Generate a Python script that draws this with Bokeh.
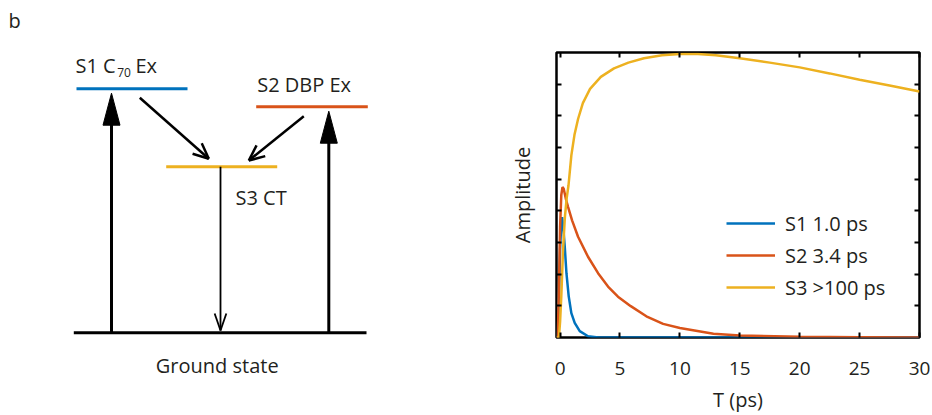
import numpy as np
from bokeh.plotting import figure
from bokeh.layouts import row
from bokeh.models import Label, LinearAxis, FixedTicker, Legend, LegendItem
from bokeh.embed import file_html
from bokeh.resources import INLINE

# ---------------- data: kinetic amplitudes (right panel) ----------------
t_s1 = [-0.3, -0.2, -0.1, 0.0, 0.1, 0.17, 0.28, 0.39, 0.53, 0.72, 0.94, 1.22, 1.64, 2.33, 3.2, 30]
a_s1 = [0, 0, 0.12, 0.28, 0.36, 0.38, 0.34, 0.286, 0.203, 0.13, 0.077, 0.046, 0.02, 0.004, 0, 0]

t_s2 = [-0.3, -0.2, -0.1, 0.0, 0.1, 0.2, 0.3, 0.5, 0.67, 1.0, 1.5, 2.33, 3.17, 4.0, 4.83,
        5.9, 7.2, 8.6, 10, 12.8, 15, 20, 25, 30]
a_s2 = [0, 0, 0.15, 0.35, 0.45, 0.475, 0.47, 0.435, 0.412, 0.37, 0.318, 0.255, 0.203, 0.161, 0.129,
        0.099, 0.067, 0.043, 0.03, 0.012, 0.006, 0.002, 0.001, 0]

t_s3 = [-0.3, -0.1, 0.0, 0.1, 0.25, 0.4, 0.55, 0.7, 0.94, 1.2, 1.5, 1.9, 2.5, 3.4, 4.5, 5.7,
        7, 8.5, 10, 11.5, 13, 15, 17.5, 20, 22.5, 25, 27.5, 30]
a_s3 = [0, 0, 0.05, 0.13, 0.28, 0.38, 0.44, 0.48, 0.575, 0.64, 0.69, 0.74, 0.785, 0.823, 0.85, 0.868,
        0.882, 0.891, 0.895, 0.895, 0.891, 0.882, 0.868, 0.853, 0.834, 0.814, 0.796, 0.777]

series_labels = ["S1 1.0 ps", "S2 3.4 ps", "S3 >100 ps"]
x_ticks = [0, 5, 10, 15, 20, 25, 30]
y_ticks = [0.1, 0.2, 0.3, 0.4, 0.5, 0.6, 0.7, 0.8]

# ---------------- data: energy diagram (left panel) ----------------
level_names = ["S1", "S2", "S3", "G"]
level_energy = [2.44, 2.26, 1.66, 0.0]
level_x0 = [0.68, 2.477, 1.577, 0.653]
level_x1 = [1.79, 3.593, 2.687, 3.58]

excite_x = [1.03, 3.203]
excite_tip = [2.396, 2.216]

transfer_start = [(1.313, 2.35), (2.953, 2.166)]
transfer_end = [(2.003, 1.74), (2.403, 1.723)]

recomb_x = 2.12
recomb_tip = 0.023

BLUE = "#0072BD"
RED = "#D95319"
YEL = "#EDB120"
TXT = "#231F20"
FONT = "Open Sans"

# ================= left panel =================
p1 = figure(width=500, height=415, x_range=(-0.08, 4.92), y_range=(-0.827, 3.323),
            output_backend="svg", toolbar_location=None, min_border=0)
try:
    p1.frame_align = False
except AttributeError:
    pass
p1.axis.visible = False
p1.grid.visible = False
p1.outline_line_color = None

level_colors = [BLUE, RED, YEL, "black"]
p1.segment(x0=level_x0, x1=level_x1, y0=level_energy, y1=level_energy,
           line_color=level_colors, line_width=3)

# excitation arrows (filled, elongated heads)
head_len, head_hw = 0.32, 0.085
for x, tip in zip(excite_x, excite_tip):
    p1.line([x, x], [0, tip - 0.2], line_color="black", line_width=3)
    p1.patch([x - head_hw, x, x + head_hw], [tip - head_len, tip, tip - head_len],
             fill_color="black", line_color="black", line_width=1)

def open_head(xs, ys, xe, ye, length, half_angle):
    d = np.array([xs - xe, ys - ye])
    d = d / np.hypot(*d)
    xs_out, ys_out = [], []
    for s in (1, -1):
        a = s * np.radians(half_angle)
        r = np.array([[np.cos(a), -np.sin(a)], [np.sin(a), np.cos(a)]]) @ d
        xs_out.append([xe, xe + length * r[0]])
        ys_out.append([ye, ye + length * r[1]])
    return xs_out, ys_out

for (xs, ys), (xe, ye) in zip(transfer_start, transfer_end):
    p1.line([xs, xe], [ys, ye], line_color="black", line_width=2.5)
    hx, hy = open_head(xs, ys, xe, ye, 0.17, 24)
    p1.multi_line(hx, hy, line_color="black", line_width=2.5)

p1.line([recomb_x, recomb_x], [level_energy[2], recomb_tip], line_color="black", line_width=1.8)
hx, hy = open_head(recomb_x, level_energy[2], recomb_x, recomb_tip, 0.18, 19)
p1.multi_line(hx, hy, line_color="black", line_width=1.8)

SHIFT = 0.08
def lab(x, y, text, size="20px", align="left"):
    p1.add_layout(Label(x=x, y=y + SHIFT, text=text, text_font=FONT, text_font_size=size,
                        text_color=TXT, text_align=align, text_baseline="alphabetic"))

lab(0.0, 3.043, "b")
lab(0.67, 2.59, "S1 C")
lab(1.087, 2.523, "70", size="12px")
lab(1.27, 2.59, "Ex")
lab(2.487, 2.408, "S2 DBP Ex")
lab(2.27, 1.273, "S3 CT")
lab(2.087, -0.407, "Ground state", align="center")

# ================= right panel =================
p2 = figure(width=432, height=415, x_range=(-0.3, 30), y_range=(0, 0.9),
            output_backend="svg", toolbar_location=None,
            min_border_left=56, min_border_right=13, min_border_top=52, min_border_bottom=77)
try:
    p2.frame_align = False
except AttributeError:
    pass
p2.grid.visible = False
p2.outline_line_color = "black"
p2.outline_line_width = 2.5

r1 = p2.line(t_s1, a_s1, line_color=BLUE, line_width=2.5)
r2 = p2.line(t_s2, a_s2, line_color=RED, line_width=2.5)
r3 = p2.line(t_s3, a_s3, line_color=YEL, line_width=2.5)

def style_axis(ax):
    ax.major_tick_in = 5
    ax.major_tick_out = 0
    ax.major_tick_line_width = 2
    ax.minor_tick_in = 5
    ax.minor_tick_out = 0
    ax.minor_tick_line_width = 2
    ax.minor_tick_line_color = "black"
    ax.axis_line_color = None
    ax.major_label_text_font = FONT
    ax.major_label_text_color = TXT
    ax.axis_label_text_font = FONT
    ax.axis_label_text_font_style = "normal"
    ax.axis_label_text_color = TXT
    ax.axis_label_text_font_size = "20px"

xa = p2.xaxis[0]
style_axis(xa)
xa.ticker = FixedTicker(ticks=x_ticks)
xa.major_label_text_font_size = "19px"
xa.major_label_standoff = 24
xa.axis_label = "T (ps)"
xa.axis_label_standoff = 8

ya = p2.yaxis[0]
style_axis(ya)
ya.ticker = FixedTicker(ticks=[], minor_ticks=y_ticks)
ya.major_label_standoff = 0
ya.axis_label = "Amplitude"
ya.axis_label_standoff = 21

top = LinearAxis(ticker=FixedTicker(ticks=[], minor_ticks=x_ticks), major_label_standoff=0)
style_axis(top)
p2.add_layout(top, "above")

right = LinearAxis(ticker=FixedTicker(ticks=[], minor_ticks=y_ticks), major_label_standoff=0)
style_axis(right)
p2.add_layout(right, "right")

legend = Legend(items=[LegendItem(label=series_labels[0], renderers=[r1]),
                       LegendItem(label=series_labels[1], renderers=[r2]),
                       LegendItem(label=series_labels[2], renderers=[r3])],
                location=(170, 34), padding=0, margin=0, spacing=0,
                glyph_width=49, glyph_height=32, label_height=32, label_standoff=10,
                label_text_font=FONT, label_text_font_size="20px", label_text_color=TXT,
                border_line_color=None, background_fill_alpha=0)
p2.add_layout(legend, "center")

layout = row(p1, p2)
open("out.html", "w").write(file_html(layout, INLINE))
